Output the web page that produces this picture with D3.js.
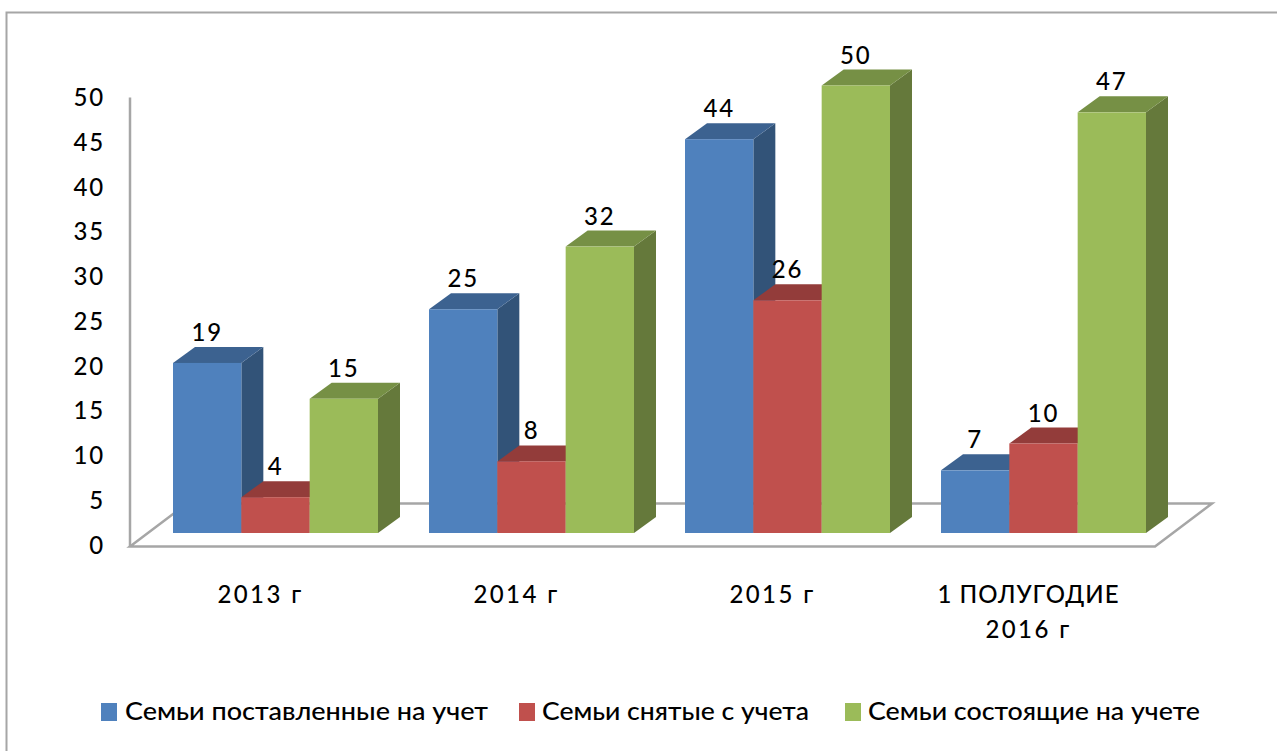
<!DOCTYPE html>
<html><head><meta charset="utf-8">
<script src="https://cdnjs.cloudflare.com/ajax/libs/d3/7.8.5/d3.min.js"></script>
<style>html,body{margin:0;padding:0;background:#fff;overflow:hidden}svg{display:block}text{font-family:Lato,"Open Sans",sans-serif;fill:#000;font-weight:500}</style>
</head><body><svg width="1277" height="751"></svg>
<script>
const categories = [["2013 г"],["2014 г"],["2015 г"],["1 ПОЛУГОДИЕ","2016 г"]];
const seriesNames = ["Семьи поставленные на учет","Семьи снятые с учета","Семьи состоящие на учете"];
const placed = [19,25,44,7];
const removed = [4,8,26,10];
const registered = [15,32,50,47];
const tickValues = [0,5,10,15,20,25,30,35,40,45,50];
const colors = [
 {front:"#4f81bd",top:"#3c6290",side:"#325378"},
 {front:"#c0504d",top:"#933c3a",side:"#7f3331"},
 {front:"#9bbb59",top:"#769045",side:"#65793b"}];
const series=[placed,removed,registered];
const svg=d3.select("svg");
const dx=22,dy=16;
const y=d3.scaleLinear().domain([0,50]).range([533,85.5]);
const x0=d3.scaleBand().domain(d3.range(4)).range([45,1069]);
const x1=d3.scaleBand().domain(d3.range(3)).range([128,333]);
const axisY=v=>y(v)+12;
// frame: only the top and left edges fall inside the picture
const grey="#a6a6a6";
svg.append("path").attr("d","M6.5,751V12.5H1277").attr("fill","none").attr("stroke",grey).attr("stroke-width",2);
// floor
const floor=[[130,546.5],[1155,546.5],[1212,503.5],[187,503.5]];
svg.append("path").attr("d",d3.line()(floor)+"Z").attr("fill","none").attr("stroke",grey).attr("stroke-width",2.5);
svg.append("line").attr("x1",130).attr("x2",130).attr("y1",axisY(50)).attr("y2",axisY(0)+2).attr("stroke",grey).attr("stroke-width",2.5);
// y labels
svg.append("g").selectAll("text").data(tickValues).join("text").attr("x",105).attr("text-anchor","end")
 .attr("y",d=>axisY(d)).attr("dy","0.36em").attr("font-size",24).attr("letter-spacing",1.8).text(d=>d);
// bars, painted left to right so each front covers the previous side
const line=d3.line();
categories.forEach((c,i)=>{
 const g=svg.append("g");
 series.forEach((s,k)=>{
  const v=s[i],l=x0(i)+x1(k),w=x1.bandwidth(),r=l+w,t=y(v),b=y(0);
  g.append("path").attr("d",line([[r,t],[r+dx,t-dy],[r+dx,b-dy],[r,b]])+"Z").attr("fill",colors[k].side);
  g.append("path").attr("d",line([[l,t],[l+dx,t-dy],[r+dx,t-dy],[r,t]])+"Z").attr("fill",colors[k].top);
  g.append("rect").attr("x",l).attr("y",t).attr("width",w).attr("height",b-t).attr("fill",colors[k].front);
 });
 series.forEach((s,k)=>{
  const v=s[i],l=x0(i)+x1(k),w=x1.bandwidth();
  g.append("text").attr("x",l+w/2).attr("y",y(v)-dy-6).attr("text-anchor","middle").attr("font-size",24).attr("letter-spacing",1.8).text(v);
 });
 const cx=x0(i)+x1(1)+x1.bandwidth()/2-15;
 c.forEach((t,j)=>svg.append("text").attr("x",cx).attr("y",603+j*35).attr("text-anchor","middle").attr("font-size",24)
   .attr("letter-spacing",t.length>8?1:2.4).text(t));
});
// legend
const legX=[101,519,845],txtX=[125,542,868],txtW=[363,267,332];
seriesNames.forEach((n,k)=>{
 svg.append("rect").attr("x",legX[k]).attr("y",703).attr("width",16).attr("height",18).attr("fill",colors[k].front);
 svg.append("text").attr("x",txtX[k]).attr("y",720).attr("font-size",24).attr("textLength",txtW[k]).attr("lengthAdjust","spacingAndGlyphs").text(n);
});
</script></body></html>
